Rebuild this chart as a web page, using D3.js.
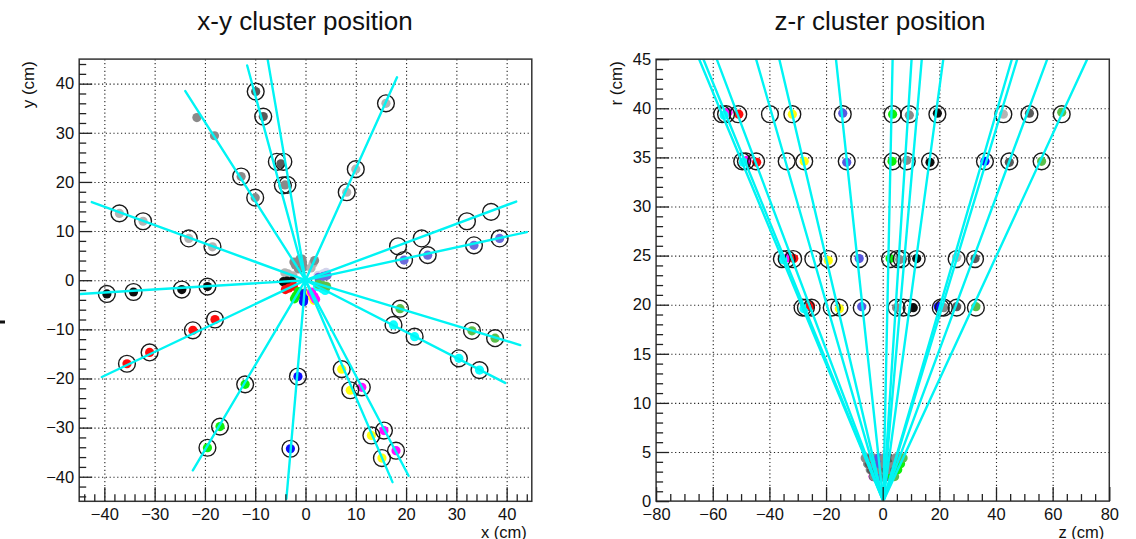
<!DOCTYPE html>
<html><head><meta charset="utf-8">
<script src="https://cdn.jsdelivr.net/npm/d3@7"></script>
<style>
body{margin:0;background:#fff;}
svg{display:block;font-family:"Liberation Sans",Arial,Helvetica,sans-serif;}
</style></head><body>
<svg id="c" width="1136" height="539"></svg>
<script>
// ---------------- DATA ----------------
// Tick labels
const xyTicks = [-40,-30,-20,-10,0,10,20,30,40];
const zTicks = [-80,-60,-40,-20,0,20,40,60,80];
const rTicks = [0,5,10,15,20,25,30,35,40,45];
const titles = ["x-y cluster position","z-r cluster position"];
const axisTitles = {x:"x (cm)", y:"y (cm)", z:"z (cm)", r:"r (cm)"};

// colour keys -> colours
const colorKeys = ["gray","lgray","dgray","black","red","green","blue","medblue","lavender","yellow","magenta","cyan","olive","pale"];
const colorVals = ["#8a8a8a","#b4b4b4","#5a5a5a","#111111","#ff1010","#10f010","#1010ff","#5858e0","#6c6cdc","#ffff10","#ff10ff","#10ffff","#5cbf4c","#d4d4ec"];

// x-y view: tracks [x1,y1,x2,y2] (cm)
const xyTracks = [
  [0,0,-23.9,38.5],[0,0,-11.6,43.7],[0,0,-7.5,44.8],[0,0,18.2,41.3],
  [0,0,41.9,16.0],[0,0,44.0,9.8],[0,0,-42.5,15.9],[0,0,-44.8,-2.8],
  [0,0,-40.5,-19.7],[0,0,-22.4,-38.7],[0,0,-3.8,-44.5],[0,0,17.3,-41.1],
  [0,0,20.5,-39.8],[0,0,39.7,-20.9],[0,0,42.7,-13.2]
];
// x-y view: cluster dots [x, y, colour]
const xyDots = [
  [-12.8,21.1,"gray"],[-10.0,16.8,"gray"],[-21.6,33.1,"gray"],[-18.1,29.4,"gray"],
  [-9.9,38.4,"dgray"],[-8.4,33.3,"dgray"],[-4.9,23.7,"dgray"],[-4.1,19.4,"gray"],
  [16.0,36.0,"lgray"],[10.0,22.6,"lgray"],[8.2,17.9,"lgray"],
  [19.6,4.1,"lavender"],[24.3,5.1,"lavender"],[33.5,7.1,"lavender"],[38.6,8.5,"lavender"],
  [-37.0,13.6,"lgray"],[-32.3,12.0,"lgray"],[-23.2,8.5,"lgray"],[-18.5,6.8,"lgray"],
  [-39.5,-2.8,"black"],[-34.2,-2.4,"black"],[-24.6,-1.9,"black"],[-19.5,-1.3,"black"],
  [-35.5,-17.0,"red"],[-31.0,-14.7,"red"],[-22.4,-10.2,"red"],[-18.0,-8.0,"red"],
  [-12.0,-21.2,"green"],[-17.0,-29.8,"green"],[-19.5,-34.1,"green"],
  [-1.5,-19.6,"blue"],[-3.0,-34.3,"blue"],
  [7.2,-18.1,"yellow"],[8.9,-22.4,"yellow"],[13.1,-31.6,"yellow"],[15.2,-36.2,"yellow"],
  [11.2,-21.8,"magenta"],[15.6,-30.6,"magenta"],[18.0,-34.7,"magenta"],
  [17.5,-9.1,"cyan"],[21.7,-11.5,"cyan"],[30.5,-15.9,"cyan"],[34.6,-18.3,"cyan"],
  [18.8,-5.8,"olive"],[33.1,-10.3,"olive"],[37.7,-11.8,"olive"],
  // inner layer clusters
  [-1.4,2.3,"gray"],[-2.0,3.1,"gray"],[-2.3,3.7,"gray"],
  [-0.7,2.6,"dgray"],[-1.0,3.6,"gray"],[-1.1,4.3,"gray"],
  [-0.4,2.7,"gray"],[-0.6,3.6,"gray"],[-0.7,4.3,"gray"],
  [1.1,2.5,"lgray"],[1.5,3.4,"lgray"],[1.8,4.0,"gray"],
  [2.5,1.0,"pale"],[3.5,1.3,"pale"],[4.1,1.6,"pale"],
  [2.6,0.6,"lavender"],[3.6,0.8,"lavender"],[4.3,1.0,"lavender"],
  [-2.5,0.9,"lgray"],[-3.5,1.3,"lgray"],[-4.1,1.5,"lgray"],
  [-2.7,-0.2,"black"],[-3.7,-0.2,"black"],[-4.4,-0.3,"black"],
  [-2.4,-1.2,"red"],[-3.3,-1.6,"red"],[-4.0,-1.9,"red"],
  [-1.4,-2.3,"green"],[-1.9,-3.2,"green"],[-2.2,-3.8,"green"],
  [-0.2,-2.7,"blue"],[-0.3,-3.7,"blue"],[-0.4,-4.4,"blue"],
  [1.0,-2.5,"yellow"],[1.4,-3.4,"yellow"],[1.7,-4.1,"yellow"],
  [1.2,-2.4,"magenta"],[1.7,-3.3,"magenta"],[2.0,-3.9,"magenta"],
  [2.4,-1.3,"cyan"],[3.3,-1.7,"cyan"],[3.9,-2.1,"cyan"],
  [2.6,-0.8,"olive"],[3.5,-1.1,"olive"],[4.2,-1.3,"olive"]
];
// x-y view: matched-hit circles [x, y]
const xyCircles = [
  [-12.8,21.1],[-10.0,16.8],[-9.9,38.4],[-8.4,33.3],[-5.7,24.1],[-4.4,24.1],[-4.5,19.3],[-3.6,19.4],
  [16.0,36.0],[10.0,22.6],[8.2,17.9],
  [18.4,6.9],[23.1,8.5],[32.1,12.0],[36.9,13.9],
  [19.6,4.1],[24.3,5.1],[33.5,7.1],[38.6,8.5],
  [-37.0,13.6],[-32.3,12.0],[-23.2,8.5],[-18.5,6.8],
  [-39.5,-2.8],[-34.2,-2.4],[-24.6,-1.9],[-19.5,-1.3],
  [-35.5,-17.0],[-31.0,-14.7],[-22.4,-10.2],[-18.0,-8.0],
  [-12.0,-21.2],[-17.0,-29.8],[-19.5,-34.1],
  [-1.5,-19.6],[-3.0,-34.3],
  [7.2,-18.1],[8.9,-22.4],[13.1,-31.6],[15.2,-36.2],
  [11.2,-21.8],[15.6,-30.6],[18.0,-34.7],
  [17.5,-9.1],[21.7,-11.5],[30.5,-15.9],[34.6,-18.3],
  [18.8,-5.8],[33.1,-10.3],[37.7,-11.8]
];

// z-r view: tracks [z1,r1,z2,r2]
const zrTracks = [
  [0.2,0,-64.8,45],[0.2,0,-63.3,45],[0.2,0,-58.6,45],[0.2,0,-44.7,45],
  [0.2,0,-36.5,45],[0.2,0,-16.5,45],[0.2,0,3.5,45],[0.2,0,10.2,45],
  [0.2,0,13.8,45],[0.2,0,21.4,45],[0.2,0,45.6,45],[0.2,0,47.5,45],
  [0.2,0,58.1,45],[0.2,0,72.2,45]
];
// z-r view: cluster dots [z, r, colour]
const zrDots = [
  [-54.6,39.6,"magenta"],[-56.0,39.3,"cyan"],[-50.8,39.4,"red"],[-31.9,39.4,"yellow"],[-14.1,39.5,"medblue"],
  [3.5,39.4,"green"],[9.4,39.3,"gray"],[19.3,39.5,"black"],[42.6,39.4,"lgray"],[51.8,39.5,"dgray"],[63.2,39.6,"olive"],
  [-47.9,34.7,"magenta"],[-49.2,34.5,"cyan"],[-44.5,34.5,"red"],[-27.7,34.6,"yellow"],[-12.7,34.5,"medblue"],
  [3.3,34.6,"green"],[8.5,34.7,"gray"],[16.7,34.5,"black"],[36.1,34.6,"blue"],[44.7,34.5,"dgray"],[56.1,34.6,"olive"],
  [-33.5,24.8,"magenta"],[-35.3,24.6,"cyan"],[-31.4,24.7,"red"],[-19.2,24.5,"yellow"],[-8.3,24.7,"medblue"],
  [2.6,24.7,"green"],[6.0,24.6,"gray"],[12.0,24.7,"black"],[26.1,24.8,"lgray"],[32.6,24.7,"dgray"],
  [-26.5,19.8,"dgray"],[-27.8,19.6,"cyan"],[-25.5,19.9,"red"],[-15.3,19.6,"yellow"],[-7.4,19.8,"medblue"],
  [4.9,19.7,"gray"],[10.8,19.7,"black"],[19.6,19.8,"blue"],[21.6,19.7,"gray"],[26.1,19.8,"dgray"],[32.9,19.8,"olive"],
  // inner layer clusters
  [-3.4,2.5,"magenta"],[-3.3,2.5,"dgray"],[-3.1,2.5,"gray"],[-2.3,2.5,"gray"],[-1.8,2.5,"dgray"],[-0.7,2.5,"medblue"],
  [0.4,2.5,"gray"],[0.8,2.5,"dgray"],[1.0,2.5,"gray"],[1.4,2.5,"dgray"],[2.7,2.5,"gray"],[2.8,2.5,"dgray"],
  [3.4,2.5,"green"],[4.2,2.5,"olive"],
  [-4.4,3.2,"gray"],[-4.0,3.2,"dgray"],[-3.0,3.2,"gray"],[-2.4,3.2,"dgray"],[-1.0,3.2,"gray"],[0.4,3.2,"gray"],
  [1.2,3.2,"dgray"],[1.7,3.2,"gray"],[3.4,3.2,"gray"],[4.3,3.2,"dgray"],[5.3,3.2,"green"],
  [-5.3,3.8,"gray"],[-5.2,3.8,"gray"],[-4.8,3.8,"dgray"],[-3.6,3.8,"gray"],[-2.9,3.8,"gray"],[-1.2,3.8,"medblue"],
  [0.5,3.8,"gray"],[1.0,3.8,"gray"],[1.4,3.8,"gray"],[2.0,3.8,"gray"],[4.0,3.8,"gray"],[4.2,3.8,"gray"],
  [5.1,3.8,"gray"],[6.3,3.8,"green"],
  [-6.2,4.4,"gray"],[-5.6,4.4,"gray"],[-4.2,4.4,"dgray"],[-3.4,4.4,"gray"],[-1.4,4.4,"medblue"],[0.5,4.4,"gray"],
  [1.5,4.4,"gray"],[2.3,4.4,"dgray"],[4.6,4.4,"gray"],[5.9,4.4,"gray"],[7.2,4.4,"olive"]
];
// z-r view: matched-hit circles [z, r]
const zrCircles = [
  [-56.7,39.4],[-55.3,39.4],[-51.0,39.4],[-39.8,39.4],[-31.9,39.4],[-14.1,39.4],[3.5,39.4],[9.4,39.4],[19.3,39.4],[42.6,39.4],[51.8,39.4],[63.2,39.4],
  [-49.6,34.6],[-48.3,34.6],[-44.7,34.6],[-33.9,34.6],[-27.7,34.6],[-12.7,34.6],[3.5,34.6],[8.5,34.6],[16.7,34.6],[36.1,34.6],[44.7,34.6],[56.1,34.6],
  [-35.6,24.65],[-33.9,24.65],[-31.6,24.65],[-24.5,24.65],[-19.2,24.65],[-8.3,24.65],[2.6,24.65],[5.3,24.65],[6.7,24.65],[12.0,24.65],[26.1,24.65],[32.6,24.65],
  [-28.3,19.7],[-27.1,19.7],[-25.1,19.7],[-18.0,19.7],[-15.3,19.7],[-7.4,19.7],[4.9,19.7],[7.3,19.7],[10.2,19.7],[20.5,19.7],[21.6,19.7],[26.1,19.7],[32.9,19.7]
];

// ---------------- DRAWING ----------------
const svg = d3.select("#c");
const color = d3.scaleOrdinal().domain(colorKeys).range(colorVals);

const defs = svg.append("defs");
defs.append("filter").attr("id","soft").attr("x","-50%").attr("y","-50%").attr("width","200%").attr("height","200%")
  .append("feGaussianBlur").attr("stdDeviation",0.7);

function panel(o){
  const {x, y} = o;
  const [xl, xr] = x.range(), [yb, yt] = y.range();
  const g = svg.append("g");
  const cid = "clip" + o.id;
  defs.append("clipPath").attr("id", cid).append("rect")
    .attr("x", xl).attr("y", yt).attr("width", xr - xl).attr("height", yb - yt);

  // grid
  const grid = g.append("g").attr("stroke","#222").attr("stroke-width",1.1).attr("stroke-dasharray","1.2,2.6");
  grid.append("g").attr("transform",`translate(0,${yb})`)
    .call(d3.axisBottom(x).tickValues(o.xGrid).tickSize(-(yb-yt)).tickFormat(""))
    .call(s => { s.select(".domain").remove(); s.selectAll("line").attr("stroke","#222"); });
  grid.append("g").attr("transform",`translate(${xl},0)`)
    .call(d3.axisLeft(y).tickValues(o.yGrid).tickSize(-(xr-xl)).tickFormat(""))
    .call(s => { s.select(".domain").remove(); s.selectAll("line").attr("stroke","#222"); });

  // marks
  const m = g.append("g").attr("clip-path", `url(#${cid})`);
  m.append("g").attr("filter","url(#soft)").selectAll("circle").data(o.dots).join("circle")
    .attr("cx", d => x(d[0])).attr("cy", d => y(d[1])).attr("r", 4.6)
    .attr("fill", d => color(d[2]));
  m.append("g").selectAll("circle").data(o.circles).join("circle")
    .attr("cx", d => x(d[0])).attr("cy", d => y(d[1])).attr("r", 8.4)
    .attr("fill","none").attr("stroke","#1a1a1a").attr("stroke-width",1.4);
  const line = d3.line().x(d => x(d[0])).y(d => y(d[1]));
  m.append("g").selectAll("path").data(o.tracks).join("path")
    .attr("d", d => line([[d[0],d[1]],[d[2],d[3]]]))
    .attr("fill","none").attr("stroke","#00f4f4").attr("stroke-width",2.4).attr("stroke-linecap","round");

  // frame
  g.append("rect").attr("x", xl).attr("y", yt).attr("width", xr - xl).attr("height", yb - yt)
    .attr("fill","none").attr("stroke","#333").attr("stroke-width",1.5);

  // ticks
  const style = s => { s.select(".domain").remove(); s.selectAll("line").attr("stroke","#222").attr("stroke-width",1.3);
                       s.selectAll("text").attr("fill","#111").style("font-size","16.5px").style("font-family",'"Liberation Sans",Arial,sans-serif'); };
  g.append("g").attr("transform",`translate(0,${yb})`)
    .call(d3.axisBottom(x).tickValues(o.xMinor).tickSize(-7).tickFormat("")).call(style);
  g.append("g").attr("transform",`translate(0,${yb})`)
    .call(d3.axisBottom(x).tickValues(o.xMajor).tickSize(-14).tickPadding(7)).call(style);
  g.append("g").attr("transform",`translate(${xl},0)`)
    .call(d3.axisLeft(y).tickValues(o.yMinor).tickSize(-7).tickFormat("")).call(style);
  g.append("g").attr("transform",`translate(${xl},0)`)
    .call(d3.axisLeft(y).tickValues(o.yMajor).tickSize(-13).tickPadding(5)).call(style);

  // titles
  g.append("text").attr("x", o.titleX).attr("y", 30).attr("text-anchor","middle")
    .style("font-size","26px").attr("fill","#111").text(o.title);
  g.append("text").attr("x", xr - 5).attr("y", 537.5).attr("text-anchor","end")
    .style("font-size","16.5px").attr("fill","#111").text(o.xTitle);
  g.append("text").attr("transform", `translate(${o.yTitleX},${yt + 2}) rotate(-90)`).attr("text-anchor","end")
    .style("font-size","17px").attr("fill","#111").text(o.yTitle);
}

const isMinor = (majors) => v => !majors.some(t => Math.abs(t - v) < 1e-6);

const xL = d3.scaleLinear().domain([-45,45]).range([79.2,531.8]);
const yL = d3.scaleLinear().domain([-45,45]).range([501.3,59.1]);
panel({
  id:"L", x:xL, y:yL, tracks:xyTracks, dots:xyDots, circles:xyCircles,
  xGrid:xyTicks, yGrid:xyTicks, xMajor:xyTicks, yMajor:xyTicks,
  xMinor:d3.range(-44,45,2).filter(isMinor(xyTicks)), yMinor:d3.range(-44,45,2).filter(isMinor(xyTicks)),
  title:titles[0], titleX:305, xTitle:axisTitles.x, yTitle:axisTitles.y, yTitleX:34
});

const zR = d3.scaleLinear().domain([-80,80]).range([656.1,1109.3]);
const rR = d3.scaleLinear().domain([0,45]).range([501.1,59.2]);
panel({
  id:"R", x:zR, y:rR, tracks:zrTracks, dots:zrDots, circles:zrCircles,
  xGrid:zTicks.slice(1,-1), yGrid:rTicks.slice(1,-1), xMajor:zTicks, yMajor:rTicks,
  xMinor:d3.range(-75,80,5).filter(isMinor(zTicks)), yMinor:d3.range(1,45,1).filter(isMinor(rTicks)),
  title:titles[1], titleX:880, xTitle:axisTitles.z, yTitle:axisTitles.r, yTitleX:622
});

// small mark at the left edge of the canvas
svg.append("rect").attr("x",0).attr("y",320.5).attr("width",5).attr("height",3).attr("fill","#111");
</script>
</body></html>
